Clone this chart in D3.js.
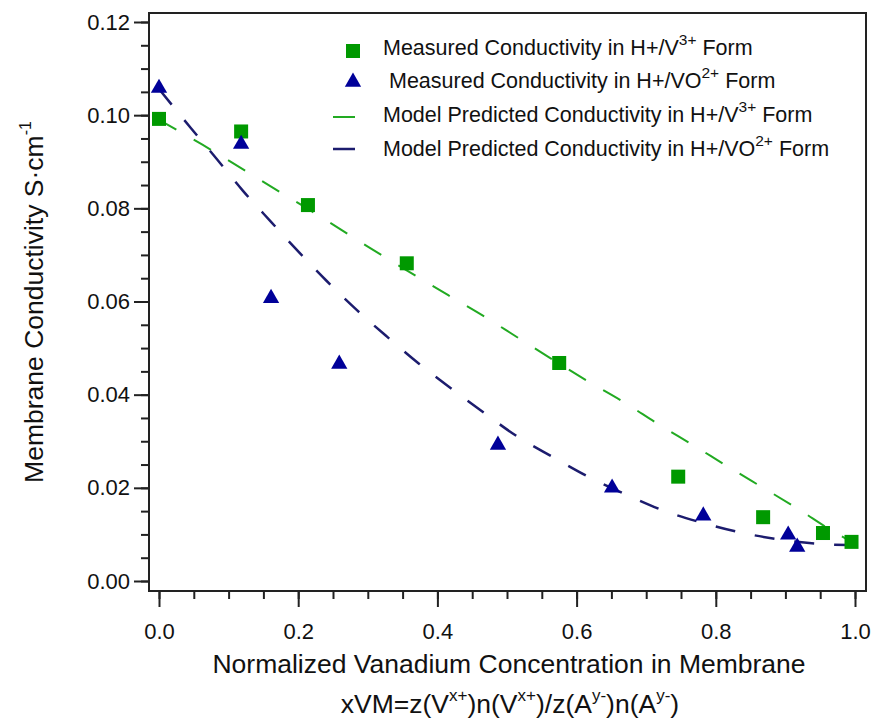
<!DOCTYPE html>
<html><head><meta charset="utf-8">
<script src="https://cdn.jsdelivr.net/npm/d3@7"></script>
<style>
body{margin:0;background:#fff;}
text{font-family:"Liberation Sans",Arial,sans-serif;fill:#111;}
</style></head>
<body><svg id="c" width="879" height="719"></svg>
<script>
// Measured data
const v3X = [0.000, 0.118, 0.214, 0.356, 0.575, 0.746, 0.868, 0.954, 0.995];
const v3Y = [0.0992, 0.0965, 0.0807, 0.0682, 0.0468, 0.0224, 0.0137, 0.0103, 0.0084];
const vo2X = [0.000, 0.118, 0.161, 0.259, 0.487, 0.651, 0.782, 0.904, 0.917];
const vo2Y = [0.1058, 0.0938, 0.0607, 0.0466, 0.0292, 0.0200, 0.0140, 0.0099, 0.0073];
// Model curves
const modelV3X = [0.000, 0.063, 0.164, 0.217, 0.300, 0.415, 0.466, 0.516, 0.616, 0.670, 0.717, 0.767, 0.818, 0.868, 0.918, 0.968, 0.995];
const modelV3Y = [0.0990, 0.0936, 0.0844, 0.0796, 0.0718, 0.0614, 0.0569, 0.0522, 0.0429, 0.0382, 0.0337, 0.0292, 0.0245, 0.0200, 0.0155, 0.0107, 0.0084];
const modelVO2X = [0.000, 0.046, 0.083, 0.121, 0.161, 0.201, 0.241, 0.284, 0.328, 0.374, 0.421, 0.467, 0.516, 0.566, 0.618, 0.672, 0.727, 0.783, 0.839, 0.897, 0.957, 0.990];
const modelVO2Y = [0.1056, 0.0972, 0.0906, 0.0837, 0.0771, 0.0706, 0.0644, 0.0582, 0.0524, 0.0466, 0.0412, 0.0361, 0.0309, 0.0266, 0.0223, 0.0185, 0.0150, 0.0124, 0.0103, 0.0088, 0.0079, 0.0077];
const xTicks = [0, 0.2, 0.4, 0.6, 0.8, 1.0];
const yTicks = [0, 0.02, 0.04, 0.06, 0.08, 0.10, 0.12];

const svg = d3.select("#c");
const L = 149, R = 866, T = 13, B = 591;
const x = d3.scaleLinear().domain([0, 1]).range([159, 855]);
const y = d3.scaleLinear().domain([0, 0.12]).range([581, 22]);

const green = "#009900", greenLine = "#22aa22", blue = "#000099", blueLine = "#1c1c6e";
const FONT = "Liberation Sans, Arial, sans-serif";

// frame
svg.append("rect").attr("x", L).attr("y", T).attr("width", R - L).attr("height", B - T)
  .attr("fill", "none").attr("stroke", "#222").attr("stroke-width", 2);

// x axis
const xMinor = d3.range(0, 1.0001, 0.05);
const gx = svg.append("g").attr("transform", `translate(0,${B})`);
gx.call(d3.axisBottom(x).tickValues(xMinor).tickSize(8).tickFormat(""));
gx.select(".domain").remove();
const gx2 = svg.append("g").attr("transform", `translate(0,${B})`);
gx2.call(d3.axisBottom(x).tickValues(xTicks).tickSize(16).tickPadding(16).tickFormat(d3.format(".1f")));
gx2.select(".domain").remove();
gx2.selectAll("text").attr("font-size", 22).attr("font-family", FONT).attr("fill", "#111");

// y axis
const yMinor = d3.range(0, 0.12001, 0.005);
const gy = svg.append("g").attr("transform", `translate(${L},0)`);
gy.call(d3.axisLeft(y).tickValues(yMinor).tickSize(8).tickFormat(""));
gy.select(".domain").remove();
const gy2 = svg.append("g").attr("transform", `translate(${L},0)`);
gy2.call(d3.axisLeft(y).tickValues(yTicks).tickSize(15).tickPadding(4).tickFormat(d3.format(".2f")));
gy2.select(".domain").remove();
gy2.selectAll("text").attr("font-size", 22).attr("font-family", FONT).attr("fill", "#111");
svg.selectAll("g .tick line").attr("stroke", "#222").attr("stroke-width", 2);

// model lines
const line = d3.line().x(d => x(d[0])).y(d => y(d[1])).curve(d3.curveMonotoneX);
svg.append("path").datum(d3.zip(modelV3X, modelV3Y)).attr("d", line)
  .attr("fill", "none").attr("stroke", greenLine).attr("stroke-width", 2).attr("stroke-dasharray", "20,20");
svg.append("path").datum(d3.zip(modelVO2X, modelVO2Y)).attr("d", line)
  .attr("fill", "none").attr("stroke", blueLine).attr("stroke-width", 2.5).attr("stroke-dasharray", "20,20");

// markers
const sq = 14;
svg.append("g").selectAll("rect").data(d3.zip(v3X, v3Y)).join("rect")
  .attr("x", d => x(d[0]) - sq / 2).attr("y", d => y(d[1]) - sq / 2)
  .attr("width", sq).attr("height", sq).attr("fill", green);
const tri = d3.symbol().type(d3.symbolTriangle).size(115);
svg.append("g").selectAll("path").data(d3.zip(vo2X, vo2Y)).join("path")
  .attr("d", tri).attr("transform", d => `translate(${x(d[0])},${y(d[1])})`).attr("fill", blue);

// legend
const lg = svg.append("g");
const lx = 353, tx = 383, rows = [55, 88, 122, 156];
lg.append("rect").attr("x", lx - 7).attr("y", rows[0] - 11).attr("width", 14).attr("height", 14).attr("fill", green);
lg.append("path").attr("d", tri).attr("transform", `translate(${lx},${rows[1] - 6})`).attr("fill", blue);
lg.append("line").attr("x1", 333).attr("x2", 355).attr("y1", rows[2] - 5).attr("y2", rows[2] - 5).attr("stroke", greenLine).attr("stroke-width", 2);
lg.append("line").attr("x1", 333).attr("x2", 355).attr("y1", rows[3] - 7).attr("y2", rows[3] - 7).attr("stroke", blueLine).attr("stroke-width", 2.5);
const legendItems = [
  {x: tx, base: "Measured Conductivity in H+/V", sup: "3+"},
  {x: tx + 6, base: "Measured Conductivity in H+/VO", sup: "2+"},
  {x: tx, base: "Model Predicted Conductivity in H+/V", sup: "3+"},
  {x: tx, base: "Model Predicted Conductivity in H+/VO", sup: "2+"}
];
legendItems.forEach((it, i) => {
  const t = lg.append("text").attr("x", it.x).attr("y", rows[i]).attr("font-size", 21.5);
  t.append("tspan").text(it.base);
  t.append("tspan").attr("dy", -10).attr("font-size", 15.5).text(it.sup);
  t.append("tspan").attr("dy", 10).text(" Form");
});

// axis titles
svg.append("text").attr("x", 509).attr("y", 673).attr("text-anchor", "middle").attr("font-size", 26.5)
  .text("Normalized Vanadium Concentration in Membrane");
const xt2 = svg.append("text").attr("x", 510).attr("y", 713).attr("text-anchor", "middle").attr("font-size", 26.5);
const parts = [["xVM=z(V", 0], ["x+", 1], [")n(V", 0], ["x+", 1], [")/z(A", 0], ["y-", 1], [")n(A", 0], ["y-", 1], [")", 0]];
let prevSup = 0;
parts.forEach(([s, sup]) => {
  const ts = xt2.append("tspan").text(s);
  if (sup) { ts.attr("font-size", 17).attr("dy", prevSup ? 0 : -12); }
  else { ts.attr("dy", prevSup ? 12 : 0); }
  prevSup = sup;
});
const yt = svg.append("text").attr("transform", "translate(43,302) rotate(-90)").attr("text-anchor", "middle").attr("font-size", 26.5);
yt.append("tspan").text("Membrane Conductivity S·cm");
yt.append("tspan").attr("font-size", 16).attr("dy", -12).text("-1");
</script></body></html>
